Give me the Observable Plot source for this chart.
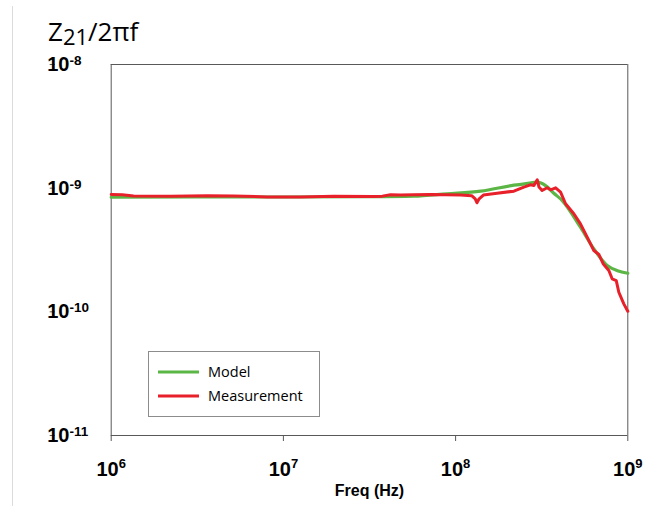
<!DOCTYPE html>
<html><head><meta charset="utf-8">
<script src="https://cdn.jsdelivr.net/npm/d3@7"></script>
<script src="https://cdn.jsdelivr.net/npm/@observablehq/plot@0.6"></script>
<style>
html,body{margin:0;padding:0;background:#fff;}
#chart{position:relative;width:663px;height:506px;}
#edge{position:absolute;left:12px;top:6px;width:1px;height:500px;background:#dcdcdc;}
</style></head><body><div id="chart"><div id="edge"></div></div>
<script>
// ---- data ----
const seriesNames = ["Model", "Measurement"];
const seriesColors = ["#5cb646", "#e8202a"];
const modelFreq = [1e6, 3.16e6, 1e7, 3.16e7, 5.71e7, 8.93e7, 1.40e8, 2.18e8, 2.57e8, 2.98e8, 3.33e8, 3.72e8, 4.16e8, 5.31e8, 6.35e8, 7.59e8, 8.71e8, 1e9];
const modelZ = [0.845e-9, 0.85e-9, 0.848e-9, 0.852e-9, 0.86e-9, 0.9e-9, 0.946e-9, 1.057e-9, 1.09e-9, 1.117e-9, 1.05e-9, 0.91e-9, 0.794e-9, 0.483e-9, 0.323e-9, 0.237e-9, 0.215e-9, 0.205e-9];
const measFreq = [1e6, 1.16e6, 1.35e6, 2.21e6, 3.61e6, 5.15e6, 8.05e6, 1.26e7, 1.96e7, 3.35e7, 3.75e7, 4.19e7, 4.79e7, 5.71e7, 7.14e7, 1.07e8, 1.24e8, 1.30e8, 1.33e8, 1.37e8, 1.45e8, 1.74e8, 2.18e8, 2.49e8, 2.72e8, 2.85e8, 2.98e8, 3.05e8, 3.18e8, 3.40e8, 3.56e8, 3.81e8, 4.07e8, 4.35e8, 4.86e8, 5.31e8, 5.81e8, 6.35e8, 6.79e8, 7.19e8, 7.76e8, 8.11e8, 8.57e8, 8.87e8, 9.48e8, 1e9];
const measZ = [0.889e-9, 0.885e-9, 0.866e-9, 0.86e-9, 0.87e-9, 0.866e-9, 0.85e-9, 0.85e-9, 0.86e-9, 0.855e-9, 0.862e-9, 0.883e-9, 0.88e-9, 0.883e-9, 0.89e-9, 0.88e-9, 0.87e-9, 0.82e-9, 0.762e-9, 0.82e-9, 0.88e-9, 0.91e-9, 0.946e-9, 1.02e-9, 1.064e-9, 1.05e-9, 1.17e-9, 1.02e-9, 0.957e-9, 1.007e-9, 0.97e-9, 1.007e-9, 0.93e-9, 0.748e-9, 0.621e-9, 0.515e-9, 0.402e-9, 0.313e-9, 0.291e-9, 0.245e-9, 0.216e-9, 0.185e-9, 0.179e-9, 0.144e-9, 0.116e-9, 0.101e-9];
const xTicks = [1e6, 1e7, 1e8, 1e9];
const yTicks = [1e-11, 1e-10, 1e-9, 1e-8];
const xLabel = "Freq (Hz)";
const yLabelMain = "Z", yLabelSub = "21", yLabelRest = "/2\u03C0f";

const model = modelFreq.map((f, i) => ({f, z: modelZ[i]}));
const meas = measFreq.map((f, i) => ({f, z: measZ[i]}));
const expFmt = d => "10^" + Math.round(Math.log10(d));
const axisColor = "#595959";
const tickFont = "'Liberation Sans', Arial, sans-serif";
const textFont = "'Open Sans', 'Liberation Sans', sans-serif";

const plot = Plot.plot({
  width: 663, height: 506,
  marginLeft: 110.7, marginRight: 35.7, marginTop: 64, marginBottom: 71,
  style: {background: "transparent", fontFamily: tickFont, color: "#000"},
  x: {type: "log", domain: [1e6, 1e9]},
  y: {type: "log", domain: [1e-11, 1e-8]},
  marks: [
    Plot.ruleY([1e-11, 1e-8], {stroke: axisColor, strokeWidth: 1}),
    Plot.ruleX([1e6, 1e9], {stroke: axisColor, strokeWidth: 1}),
    Plot.axisX({ticks: xTicks, tickSize: 6, tickPadding: 20, tickFormat: expFmt, stroke: axisColor, label: null}),
    Plot.axisY({ticks: yTicks, tickSize: 5, tickPadding: 3, tickFormat: expFmt, stroke: axisColor, label: null, textAnchor: "start", dx: -56}),
    Plot.line(model, {x: "f", y: "z", stroke: seriesColors[0], strokeWidth: 3.2, curve: "monotone-x"}),
    Plot.line(meas, {x: "f", y: "z", stroke: seriesColors[1], strokeWidth: 3, curve: "linear", strokeLinejoin: "round"}),
    Plot.text([xLabel], {frameAnchor: "bottom", lineAnchor: "bottom", dy: 60, fill: "#000", fontSize: 16, fontWeight: "bold"})
  ]
});

const svg = d3.select(plot);
function supify(sel, mainSize, supSize, supDy) {
  sel.attr("font-size", mainSize).attr("font-weight", "bold").attr("font-family", tickFont);
  sel.selectAll("text").each(function() {
    const t = this.textContent;
    if (t.indexOf("^") < 0) return;
    const [b, e] = t.split("^");
    const el = d3.select(this);
    el.text("");
    el.append("tspan").attr("font-size", mainSize).text(b);
    el.append("tspan").attr("font-size", supSize).attr("dy", supDy).text(e);
  });
}
supify(svg.selectAll('g[aria-label="x-axis tick label"]'), 20, 13, -7.5);
supify(svg.selectAll('g[aria-label="y-axis tick label"]'), 20, 13.5, -6);
svg.selectAll("text").filter(function() { return this.textContent === xLabel; })
  .attr("font-size", 16).attr("font-weight", "bold");

// title (y label)
const title = svg.append("text").attr("x", 48).attr("y", 41).attr("text-anchor", "start")
  .attr("font-family", textFont).attr("font-size", 26).attr("fill", "#000");
title.append("tspan").text(yLabelMain);
title.append("tspan").attr("dy", 4).attr("font-size", 22).text(yLabelSub);
title.append("tspan").attr("dy", -4).text(yLabelRest);

// legend
const lg = svg.append("g").attr("font-family", textFont).attr("font-size", 14.5).attr("text-anchor", "start");
lg.append("rect").attr("x", 148.5).attr("y", 351.5).attr("width", 171).attr("height", 65)
  .attr("fill", "#fff").attr("stroke", "#8c8c8c").attr("stroke-width", 1);
seriesNames.forEach((n, i) => {
  const yy = 372 + i * 24;
  lg.append("line").attr("x1", 158).attr("x2", 199).attr("y1", yy).attr("y2", yy)
    .attr("stroke", seriesColors[i]).attr("stroke-width", 3);
  lg.append("text").attr("x", 208).attr("y", yy).attr("dy", "0.35em").attr("fill", "#000").text(n);
});

document.getElementById("chart").appendChild(plot);
</script></body></html>
